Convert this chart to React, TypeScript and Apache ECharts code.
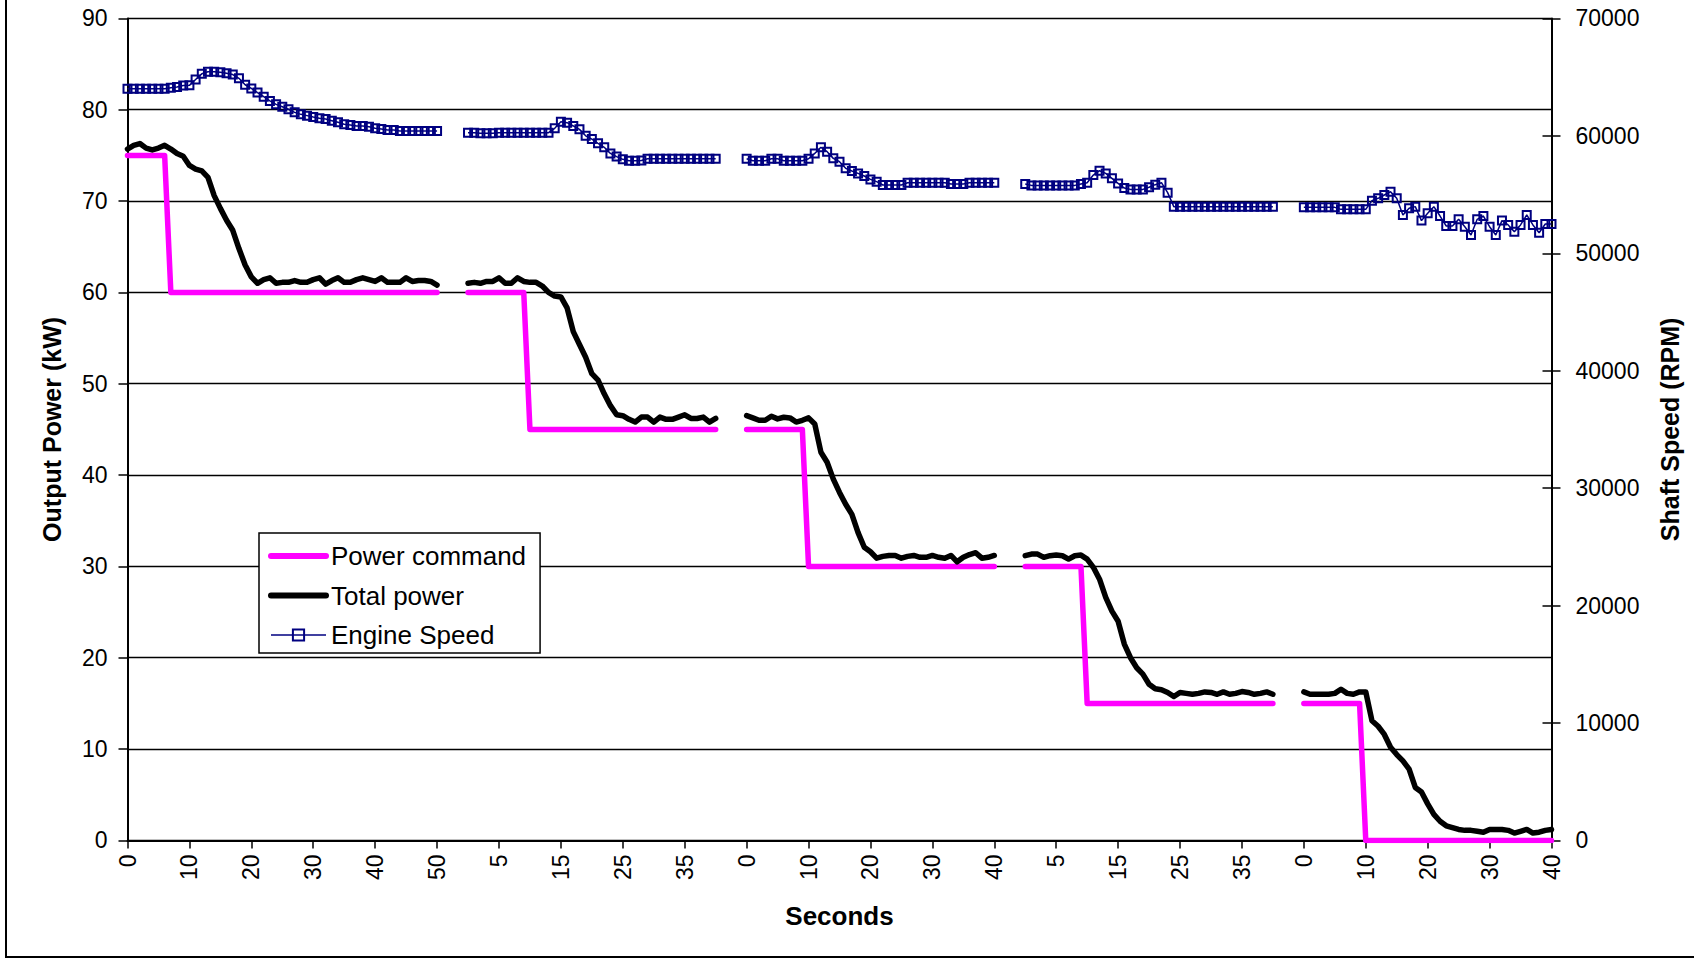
import React, { useEffect, useRef } from "react";
import * as echarts from "echarts";

const FONT = "'Liberation Sans', Arial, sans-serif";

// Five test segments, each shown as its own time axis (seconds)
const SEGMENT_SECONDS = [50, 40, 40, 40, 40];
const GAP_CATEGORIES = 4;

// Power command (kW), one value per second
const cmdSeg1 = [75, 75, 75, 75, 75, 75, 75, 60, 60, 60, 60, 60, 60, 60, 60, 60, 60, 60, 60, 60, 60, 60, 60, 60, 60, 60, 60, 60, 60, 60, 60, 60, 60, 60, 60, 60, 60, 60, 60, 60, 60, 60, 60, 60, 60, 60, 60, 60, 60, 60, 60];
const cmdSeg2 = [60, 60, 60, 60, 60, 60, 60, 60, 60, 60, 45, 45, 45, 45, 45, 45, 45, 45, 45, 45, 45, 45, 45, 45, 45, 45, 45, 45, 45, 45, 45, 45, 45, 45, 45, 45, 45, 45, 45, 45, 45];
const cmdSeg3 = [45, 45, 45, 45, 45, 45, 45, 45, 45, 45, 30, 30, 30, 30, 30, 30, 30, 30, 30, 30, 30, 30, 30, 30, 30, 30, 30, 30, 30, 30, 30, 30, 30, 30, 30, 30, 30, 30, 30, 30, 30];
const cmdSeg4 = [30, 30, 30, 30, 30, 30, 30, 30, 30, 30, 15, 15, 15, 15, 15, 15, 15, 15, 15, 15, 15, 15, 15, 15, 15, 15, 15, 15, 15, 15, 15, 15, 15, 15, 15, 15, 15, 15, 15, 15, 15];
const cmdSeg5 = [15, 15, 15, 15, 15, 15, 15, 15, 15, 15, 0, 0, 0, 0, 0, 0, 0, 0, 0, 0, 0, 0, 0, 0, 0, 0, 0, 0, 0, 0, 0, 0, 0, 0, 0, 0, 0, 0, 0, 0, 0];

// Total power (kW)
const totSeg1 = [75.7, 76.1, 76.3, 75.8, 75.6, 75.8, 76.1, 75.7, 75.2, 74.9, 73.9, 73.5, 73.3, 72.6, 70.6, 69.2, 67.9, 66.8, 64.8, 63.0, 61.7, 61.0, 61.4, 61.6, 61.0, 61.1, 61.1, 61.3, 61.1, 61.1, 61.4, 61.6, 60.9, 61.3, 61.6, 61.1, 61.1, 61.4, 61.6, 61.4, 61.2, 61.6, 61.1, 61.1, 61.1, 61.6, 61.2, 61.3, 61.3, 61.2, 60.8];
const totSeg2 = [61.0, 61.1, 61.0, 61.2, 61.2, 61.6, 61.0, 61.0, 61.6, 61.2, 61.1, 61.1, 60.7, 60.0, 59.6, 59.5, 58.3, 55.7, 54.3, 52.9, 51.1, 50.4, 48.9, 47.6, 46.6, 46.5, 46.1, 45.8, 46.35, 46.35, 45.8, 46.35, 46.1, 46.1, 46.35, 46.6, 46.2, 46.2, 46.35, 45.8, 46.2];
const totSeg3 = [46.5, 46.26, 46.0, 46.0, 46.44, 46.15, 46.33, 46.26, 45.8, 46.0, 46.26, 45.6, 42.5, 41.4, 39.56, 38.1, 36.8, 35.7, 33.7, 32.1, 31.6, 30.9, 31.1, 31.2, 31.2, 30.9, 31.1, 31.2, 31.0, 31.0, 31.2, 31.0, 30.9, 31.2, 30.5, 31.0, 31.3, 31.5, 30.9, 31.0, 31.2];
const totSeg4 = [31.17, 31.35, 31.35, 30.99, 31.17, 31.24, 31.17, 30.8, 31.17, 31.24, 30.8, 29.9, 28.6, 26.6, 25.1, 24.0, 21.5, 20.0, 18.9, 18.2, 17.1, 16.6, 16.5, 16.2, 15.75, 16.2, 16.1, 16.0, 16.1, 16.26, 16.2, 16.0, 16.26, 16.0, 16.1, 16.3, 16.2, 16.0, 16.1, 16.26, 16.0];
const totSeg5 = [16.26, 16.0, 16.0, 16.0, 16.0, 16.1, 16.55, 16.1, 16.0, 16.26, 16.26, 13.1, 12.5, 11.6, 10.2, 9.4, 8.7, 7.8, 5.8, 5.3, 4.0, 2.85, 2.1, 1.6, 1.4, 1.2, 1.1, 1.1, 1.0, 0.9, 1.2, 1.2, 1.2, 1.1, 0.8, 1.0, 1.2, 0.8, 0.9, 1.1, 1.2];

// Engine speed (RPM)
const spdSeg1 = [64000, 64000, 64000, 64000, 64000, 64000, 64000, 64100, 64150, 64280, 64300, 64800, 65280, 65460, 65460, 65420, 65330, 65220, 64900, 64350, 64040, 63680, 63330, 62970, 62680, 62480, 62260, 62000, 61830, 61720, 61600, 61490, 61430, 61290, 61150, 60980, 60920, 60840, 60840, 60780, 60640, 60580, 60500, 60500, 60410, 60410, 60410, 60410, 60410, 60410, 60410];
const spdSeg2 = [60270, 60270, 60210, 60210, 60210, 60270, 60270, 60270, 60270, 60270, 60270, 60270, 60270, 60270, 60640, 61200, 61120, 60840, 60550, 60000, 59720, 59360, 59020, 58500, 58230, 58000, 57880, 57880, 57900, 58050, 58050, 58050, 58050, 58050, 58050, 58050, 58050, 58050, 58050, 58050, 58050];
const spdSeg3 = [58050, 57880, 57880, 57880, 58050, 58050, 57880, 57880, 57880, 57880, 58050, 58500, 59020, 58650, 58080, 57800, 57230, 57000, 56800, 56580, 56290, 56100, 55810, 55810, 55810, 55810, 56010, 56010, 56010, 56010, 56010, 56010, 56010, 55900, 55900, 55900, 56010, 56010, 56010, 56010, 56010];
const spdSeg4 = [55900, 55780, 55780, 55780, 55780, 55780, 55780, 55780, 55780, 55900, 56010, 56660, 57030, 56800, 56380, 55950, 55550, 55440, 55440, 55440, 55620, 55840, 56010, 55160, 53970, 53970, 53970, 53970, 53970, 53970, 53970, 53970, 53970, 53970, 53970, 53970, 53970, 53970, 53970, 53970, 53970];
const spdSeg5 = [53910, 53910, 53910, 53910, 53910, 53910, 53740, 53740, 53740, 53740, 53740, 54480, 54680, 54960, 55240, 54680, 53260, 53830, 53970, 52780, 53400, 53970, 53170, 52320, 52320, 52890, 52260, 51560, 52890, 53170, 52260, 51560, 52780, 52410, 51840, 52410, 53260, 52410, 51750, 52490, 52490];

function buildCategories(): string[] {
  const out: string[] = [];
  SEGMENT_SECONDS.forEach((dur, i) => {
    if (i > 0) for (let k = 0; k < GAP_CATEGORIES; k++) out.push(" ".repeat(i * GAP_CATEGORIES + k + 1));
    for (let t = 0; t <= dur; t++) out.push(String(t));
  });
  return out;
}

function joinSegments(segs: number[][]): (number | null)[] {
  const out: (number | null)[] = [];
  segs.forEach((s, i) => {
    if (i > 0) for (let k = 0; k < GAP_CATEGORIES; k++) out.push(null);
    out.push(...s);
  });
  return out;
}

const categories = buildCategories();
const powerCommand = joinSegments([cmdSeg1, cmdSeg2, cmdSeg3, cmdSeg4, cmdSeg5]);
const totalPower = joinSegments([totSeg1, totSeg2, totSeg3, totSeg4, totSeg5]);
const engineSpeed = joinSegments([spdSeg1, spdSeg2, spdSeg3, spdSeg4, spdSeg5]);

export default function App() {
  const ref = useRef<HTMLDivElement>(null);

  useEffect(() => {
    if (!ref.current) return;
    const chart = echarts.init(ref.current, null, { renderer: "svg" });
    const tickFont = { fontSize: 23, color: "#000", fontFamily: FONT };
    const titleFont = { fontSize: 25, fontWeight: "bold" as const, color: "#000", fontFamily: FONT };
    const hiddenSymbol = { color: "rgba(0,0,0,0)", borderWidth: 0, opacity: 0 };
    chart.setOption({
      animation: false,
      backgroundColor: "#fff",
      textStyle: { fontFamily: FONT },
      grid: { left: 127.5, top: 18.4, width: 1424, height: 822, containLabel: false },
      graphic: [
        {
          type: "rect",
          z: -10,
          silent: true,
          shape: { x: 6, y: -10, width: 1710, height: 967 },
          style: { fill: "none", stroke: "#000", lineWidth: 2 },
        },
      ],
      legend: {
        orient: "vertical",
        left: 259,
        top: 533,
        padding: [8, 14, 3, 9],
        itemGap: 9.5,
        itemWidth: 55,
        itemHeight: 14,
        borderColor: "#000",
        borderWidth: 1.5,
        borderRadius: 0,
        backgroundColor: "#fff",
        textStyle: { fontSize: 26, color: "#000", fontFamily: FONT, lineHeight: 30 },
        data: [
          { name: "Power command", lineStyle: { width: 6 }, itemStyle: hiddenSymbol },
          { name: "Total power", lineStyle: { width: 6 }, itemStyle: hiddenSymbol },
          { name: "Engine Speed", lineStyle: { width: 1.5 } },
        ],
      },
      xAxis: {
        type: "category",
        data: categories,
        boundaryGap: false,
        name: "Seconds",
        nameLocation: "middle",
        nameGap: 63,
        nameTextStyle: { ...titleFont, fontSize: 26 },
        axisLine: { show: true, lineStyle: { color: "#000", width: 2 } },
        axisTick: { show: true, interval: 9, length: 8, lineStyle: { color: "#000", width: 1.5 } },
        axisLabel: { interval: 9, rotate: 90, margin: 14, ...tickFont },
        splitLine: { show: false },
      },
      yAxis: [
        {
          type: "value",
          min: 0,
          max: 90,
          interval: 10,
          name: "Output Power (kW)",
          nameLocation: "middle",
          nameGap: 63,
          nameTextStyle: titleFont,
          axisLine: { show: true, lineStyle: { color: "#000", width: 2 } },
          axisTick: { show: true, length: 9, lineStyle: { color: "#000", width: 1.5 } },
          axisLabel: { margin: 20, ...tickFont },
          splitLine: { show: true, lineStyle: { color: "#000", width: 1.3 } },
        },
        {
          type: "value",
          position: "right",
          min: 0,
          max: 70000,
          interval: 10000,
          name: "Shaft Speed (RPM)",
          nameLocation: "middle",
          nameGap: 106,
          nameTextStyle: titleFont,
          axisLine: { show: true, lineStyle: { color: "#000", width: 2 } },
          axisTick: { show: true, length: 9, lineStyle: { color: "#000", width: 1.5 } },
          axisLabel: { margin: 24, ...tickFont, formatter: (v: number) => String(v) },
          splitLine: { show: false },
        },
        {
          type: "value",
          position: "right",
          min: 0,
          max: 70000,
          interval: 10000,
          axisLine: { show: false },
          axisTick: { show: true, inside: true, length: 9, lineStyle: { color: "#000", width: 1.5 } },
          axisLabel: { show: false },
          splitLine: { show: false },
        },
      ],
      series: [
        {
          name: "Power command",
          type: "line",
          yAxisIndex: 0,
          data: powerCommand,
          symbol: "none",
          connectNulls: false,
          itemStyle: { color: "#FF00FF" },
          lineStyle: { color: "#FF00FF", width: 5.5, cap: "round", join: "round" },
          z: 3,
        },
        {
          name: "Total power",
          type: "line",
          yAxisIndex: 0,
          data: totalPower,
          symbol: "none",
          connectNulls: false,
          itemStyle: { color: "#000" },
          lineStyle: { color: "#000", width: 5.5, cap: "round", join: "round" },
          z: 4,
        },
        {
          name: "Engine Speed",
          type: "line",
          yAxisIndex: 1,
          data: engineSpeed,
          symbol: "rect",
          symbolSize: 8,
          showAllSymbol: true,
          connectNulls: false,
          itemStyle: { color: "rgba(0,0,0,0)", borderColor: "#000080", borderWidth: 2 },
          lineStyle: { color: "#000080", width: 1.5 },
          z: 5,
        },
      ],
    });
    return () => chart.dispose();
  }, []);

  return (
    <div
      ref={ref}
      style={{ position: "absolute", left: 0, top: 0, width: 1694, height: 959, background: "#fff" }}
    />
  );
}
